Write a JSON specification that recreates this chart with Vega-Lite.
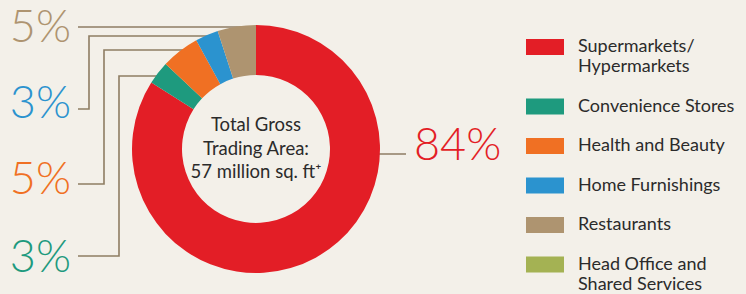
{
  "$schema": "https://vega.github.io/schema/vega-lite/v6.json",
  "width": 746,
  "height": 294,
  "autosize": "none",
  "padding": 0,
  "background": "#F3F0E9",
  "config": {"view": {"stroke": null}, "font": "Lato"},
  "datasets": {
    "shares": [
      {"category": "Supermarkets/ Hypermarkets", "share": 84, "rank": 1},
      {"category": "Convenience Stores", "share": 3, "rank": 2},
      {"category": "Health and Beauty", "share": 5, "rank": 3},
      {"category": "Home Furnishings", "share": 3, "rank": 4},
      {"category": "Restaurants", "share": 5, "rank": 5},
      {"category": "Head Office and Shared Services", "share": 0, "rank": 6}
    ],
    "leaders": [
      {"seg": "Restaurants", "i": 1, "px": 78, "py": 27},
      {"seg": "Restaurants", "i": 2, "px": 250, "py": 27},
      {"seg": "Home Furnishings", "i": 1, "px": 78, "py": 109},
      {"seg": "Home Furnishings", "i": 2, "px": 89, "py": 109},
      {"seg": "Home Furnishings", "i": 3, "px": 89, "py": 36},
      {"seg": "Home Furnishings", "i": 4, "px": 212, "py": 36},
      {"seg": "Health and Beauty", "i": 1, "px": 78, "py": 184},
      {"seg": "Health and Beauty", "i": 2, "px": 104, "py": 184},
      {"seg": "Health and Beauty", "i": 3, "px": 104, "py": 50},
      {"seg": "Health and Beauty", "i": 4, "px": 186, "py": 50},
      {"seg": "Convenience Stores", "i": 1, "px": 78, "py": 256},
      {"seg": "Convenience Stores", "i": 2, "px": 119, "py": 256},
      {"seg": "Convenience Stores", "i": 3, "px": 119, "py": 76},
      {"seg": "Convenience Stores", "i": 4, "px": 162, "py": 76},
      {"seg": "Supermarkets/ Hypermarkets", "i": 1, "px": 372, "py": 154},
      {"seg": "Supermarkets/ Hypermarkets", "i": 2, "px": 406, "py": 154}
    ],
    "labels": [
      {"category": "Restaurants", "label": "5%", "px": 71, "py": 42, "side": "left"},
      {"category": "Home Furnishings", "label": "3%", "px": 71, "py": 118, "side": "left"},
      {"category": "Health and Beauty", "label": "5%", "px": 71, "py": 194, "side": "left"},
      {"category": "Convenience Stores", "label": "3%", "px": 71, "py": 272, "side": "left"},
      {"category": "Supermarkets/ Hypermarkets", "label": "84%", "px": 414, "py": 160, "side": "right"}
    ],
    "center": [
      {"cx": 256, "cy": 149, "t": ["Total Gross", "Trading Area:", "57 million sq. ft⁺"]}
    ]
  },
  "layer": [
    {
      "data": {"name": "leaders"},
      "mark": {"type": "line", "color": "#8E7D63", "strokeWidth": 1.6, "strokeCap": "butt", "strokeJoin": "miter"},
      "encoding": {
        "x": {"field": "px", "type": "quantitative", "scale": {"domain": [0, 746], "nice": false, "zero": false}, "axis": null},
        "y": {"field": "py", "type": "quantitative", "scale": {"domain": [0, 294], "nice": false, "zero": false, "reverse": true}, "axis": null},
        "detail": {"field": "seg"},
        "order": {"field": "i"}
      }
    },
    {
      "data": {"name": "shares"},
      "transform": [{"filter": "datum.share > 0"}],
      "mark": {"type": "arc", "outerRadius": 124, "innerRadius": 74, "stroke": null},
      "encoding": {
        "x": {"datum": 256, "type": "quantitative"},
        "y": {"datum": 149, "type": "quantitative"},
        "theta": {"field": "share", "type": "quantitative", "stack": true},
        "order": {"field": "rank"},
        "color": {
          "field": "category",
          "type": "nominal",
          "scale": {
            "domain": ["Supermarkets/ Hypermarkets", "Convenience Stores", "Health and Beauty", "Home Furnishings", "Restaurants", "Head Office and Shared Services"],
            "range": ["#E31E26", "#1E9A7E", "#F07023", "#2B93CF", "#AE9470", "#A4B253"]
          },
          "legend": {
            "title": null,
            "orient": "none",
            "legendX": 526,
            "legendY": 28,
            "padding": 0,
            "symbolType": "M-1,-0.421H1V0.421H-1Z",
            "symbolSize": 1444,
            "symbolStrokeWidth": 0,
            "symbolOpacity": 1,
            "labelFont": "Lato",
            "labelFontSize": 18,
            "labelColor": "#2B2B2B",
            "labelOffset": 14,
            "labelLimit": 300,
            "rowPadding": 11.5,
            "labelExpr": "datum.label == 'Supermarkets/ Hypermarkets' ? ['Supermarkets/', 'Hypermarkets'] : datum.label == 'Head Office and Shared Services' ? ['Head Office and', 'Shared Services'] : datum.label",
            "values": ["Supermarkets/ Hypermarkets", "Convenience Stores", "Health and Beauty", "Home Furnishings", "Restaurants", "Head Office and Shared Services"]
          }
        }
      }
    },
    {
      "data": {"name": "center"},
      "mark": {"type": "text", "font": "Lato", "fontSize": 18.5, "color": "#2B2B2B", "align": "center", "baseline": "alphabetic", "lineHeight": 23.5, "dy": -18},
      "encoding": {
        "x": {"field": "cx", "type": "quantitative"},
        "y": {"field": "cy", "type": "quantitative"},
        "text": {"field": "t"}
      }
    },
    {
      "data": {"name": "labels"},
      "transform": [{"filter": "datum.side == 'left'"}],
      "mark": {"type": "text", "font": "Lato", "fontWeight": 300, "fontSize": 45, "baseline": "alphabetic", "align": "right"},
      "encoding": {
        "x": {"field": "px", "type": "quantitative"},
        "y": {"field": "py", "type": "quantitative"},
        "text": {"field": "label"},
        "color": {"field": "category", "type": "nominal"}
      }
    },
    {
      "data": {"name": "labels"},
      "transform": [{"filter": "datum.side == 'right'"}],
      "mark": {"type": "text", "font": "Lato", "fontWeight": 300, "fontSize": 45, "baseline": "alphabetic", "align": "left"},
      "encoding": {
        "x": {"field": "px", "type": "quantitative"},
        "y": {"field": "py", "type": "quantitative"},
        "text": {"field": "label"},
        "color": {"field": "category", "type": "nominal"}
      }
    }
  ]
}
